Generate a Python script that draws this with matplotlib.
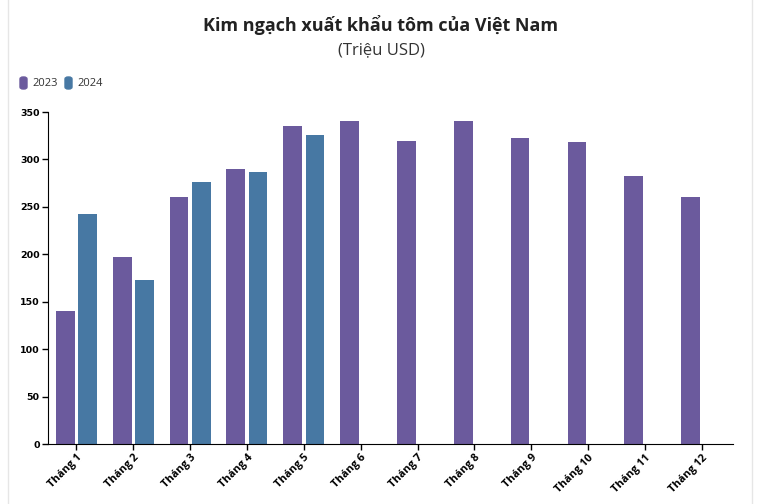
import numpy as np
import matplotlib.pyplot as plt
from matplotlib.patches import Rectangle, FancyBboxPatch

months = ["Tháng %d" % i for i in range(1, 13)]
val_2023 = [140, 197, 260, 290, 335, 340, 319, 340, 323, 318, 283, 260]
val_2024 = [242, 173, 276, 287, 326]
yticks = [0, 50, 100, 150, 200, 250, 300, 350]

c2023 = "#6b5a9d"
c2024 = "#4778a3"

fig = plt.figure(figsize=(7.62, 5.04), dpi=100)
ax = fig.add_axes([48 / 762, 1 - 444 / 504, 685 / 762, 332 / 504])

x = np.arange(len(months))
w = 0.33
ax.bar(x - 0.195, val_2023, width=w, color=c2023)
ax.bar(x[:len(val_2024)] + 0.195, val_2024, width=w, color=c2024)

ax.set_xlim(-0.5, 11.55)
ax.set_ylim(0, 350)
ax.set_yticks(yticks)
ax.set_xticks(x)
ax.set_xticklabels(months, rotation=45, ha="right", rotation_mode="anchor",
                   fontsize=7.8, fontweight="bold", family="Open Sans")
for lab in ax.get_yticklabels():
    lab.set_fontsize(6.8)
    lab.set_fontweight("bold")
ax.tick_params(axis="both", length=4, width=1, pad=2)
ax.spines["top"].set_visible(False)
ax.spines["right"].set_visible(False)

fig.text(0.5, 1 - 25 / 504, "Kim ngạch xuất khẩu tôm của Việt Nam", ha="center", va="center",
         fontsize=13, fontweight="bold", family="Open Sans", color="#222222")
fig.text(0.5, 1 - 50 / 504, "(Triệu USD)", ha="center", va="center",
         fontsize=12, family="Open Sans", color="#333333")

# legend
for lx, col, txt in [(20, c2023, "2023"), (65, c2024, "2024")]:
    fig.patches.append(FancyBboxPatch((lx / 762, 1 - 89 / 504), 7 / 762, 12 / 504,
                                      boxstyle="round,pad=0,rounding_size=0.004",
                                      transform=fig.transFigure, color=col))
    fig.text((lx + 12) / 762, 1 - 83 / 504, txt, ha="left", va="center",
             fontsize=8, family="Open Sans", color="#333333")

# faint page border
fig.patches.append(Rectangle((8 / 762, -0.01), 744 / 762, 1.02, transform=fig.transFigure,
                             fill=False, edgecolor="#e6e6e6", linewidth=1))

fig.savefig("out.png", dpi=100)
